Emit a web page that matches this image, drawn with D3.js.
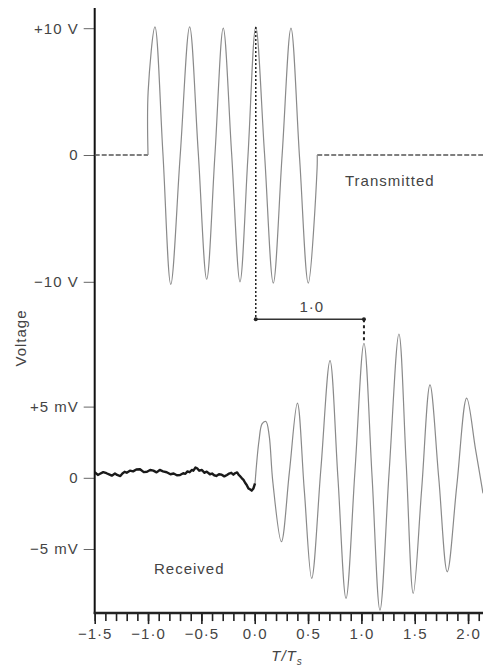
<!DOCTYPE html>
<html>
<head>
<meta charset="utf-8">
<script src="https://cdn.jsdelivr.net/npm/d3@7"></script>
<style>
  html, body { margin: 0; padding: 0; background: #fff; }
  svg text { font-family: "Liberation Sans", Arial, sans-serif; fill: #444; }
</style>
</head>
<body>
<div id="chart-div"></div>
<script>
// x axis: time in units of T/Ts
const xMajorTicks  = [-1.5, -1.0, -0.5, 0.0, 0.5, 1.0, 1.5, 2.0];
const xMajorLabels = ['\u22121\u00b75', '\u22121\u00b70', '\u22120\u00b75', '0\u00b70', '0\u00b75', '1\u00b70', '1\u00b75', '2\u00b70'];
const xMinorTicks  = [-1.5, -1.4, -1.3, -1.2, -1.1, -1.0, -0.9, -0.8, -0.7, -0.6, -0.5, -0.4, -0.3, -0.2, -0.1,
                      0.0, 0.1, 0.2, 0.3, 0.4, 0.5, 0.6, 0.7, 0.8, 0.9, 1.0, 1.1, 1.2, 1.3, 1.4, 1.5, 1.6, 1.7,
                      1.8, 1.9, 2.0, 2.1];

// left axis, upper panel (V) and lower panel (mV)
const txTicks  = [10, 0, -10];
const txLabels = ['+10 V', '0', '\u221210 V'];
const rxTicks  = [5, 0, -5];
const rxLabels = ['+5 mV', '0', '\u22125 mV'];

// transmitted burst (V)
const txBaseT  = [[-1.5, -1.0], [0.586, 2.14]];
const txBurstT = [-1.0, -0.999, -0.935, -0.861, -0.787, -0.699, -0.61, -0.53, -0.45, -0.373, -0.295,
                  -0.217, -0.138, -0.064, 0.01, 0.092, 0.174, 0.257, 0.34, 0.421, 0.502, 0.585, 0.586];
const txBurstV = [0, 5.0, 10.1, 0.2, -10.2, -0.1, 10.1, 0.3, -9.8, 0.0, 10.0,
                  0.2, -10.0, -0.2, 10.1, 0.1, -10.1, 0.0, 10.0, -0.3, -10.1, -1.0, 0];

// received signal (mV): noisy pre-arrival part, then oscillation
const rxNoiseT = [-1.5, -1.47, -1.45, -1.42, -1.39, -1.36, -1.34, -1.31, -1.29, -1.26, -1.24, -1.22, -1.2,
                  -1.17, -1.14, -1.11, -1.075, -1.04, -1.01, -0.98, -0.95, -0.92, -0.89, -0.86, -0.825,
                  -0.79, -0.76, -0.73, -0.70, -0.67, -0.65, -0.63, -0.61, -0.59, -0.575, -0.555, -0.54,
                  -0.52, -0.495, -0.47, -0.45, -0.42, -0.40, -0.38, -0.36, -0.335, -0.31, -0.285, -0.26,
                  -0.24, -0.22, -0.2, -0.185, -0.165, -0.15, -0.135, -0.12, -0.105, -0.09, -0.075,
                  -0.06, -0.045, -0.028, -0.012, 0.003];
const rxNoiseV = [0.39, 0.2, 0.28, 0.4, 0.32, 0.22, 0.15, 0.3, 0.2, 0.12, 0.3, 0.42, 0.36,
                  0.5, 0.45, 0.58, 0.6, 0.4, 0.42, 0.55, 0.5, 0.38, 0.55, 0.45, 0.39,
                  0.25, 0.3, 0.18, 0.2, 0.32, 0.28, 0.45, 0.39, 0.55, 0.5, 0.72, 0.67,
                  0.5, 0.55, 0.35, 0.43, 0.25, 0.3, 0.18, 0.13, 0.25, 0.22, 0.1, 0.2,
                  0.3, 0.35, 0.22, 0.32, 0.38, 0.2, 0.1, -0.04, -0.15, -0.35, -0.5,
                  -0.74, -0.8, -0.9, -0.75, -0.39];
const rxWaveT  = [0.003, 0.04, 0.07, 0.105, 0.135, 0.17, 0.25, 0.325, 0.40, 0.465, 0.534, 0.62, 0.706,
                  0.78, 0.856, 0.94, 1.024, 1.10, 1.174, 1.26, 1.352, 1.42, 1.486, 1.565, 1.643, 1.725,
                  1.805, 1.895, 1.987, 2.07, 2.14];
const rxWaveV  = [-0.39, 2.6, 3.8, 3.95, 3.0, -0.3, -4.49, 0.4, 5.24, -0.9, -7.06, 0.6, 8.23,
                  0.0, -8.47, 0.5, 9.45, 0.1, -9.29, 0.4, 10.1, 1.0, -8.12, -0.8, 6.52, 0.0,
                  -6.6, -0.5, 5.59, 2.0, -1.09];

// delay marker: transmitted peak -> received peak
const delayT     = [0.01, 1.024];
const delayLabel = '1\u00b70';
const delayLevel = -12.95;   // on the V scale, between the panels

const width = 483, height = 670;
const svg = d3.select('#chart-div').append('svg')
    .attr('width', width).attr('height', height);

const x   = d3.scaleLinear().domain([-1.5, 2.14]).range([94.7, 483]);
const yTx = d3.scaleLinear().domain([-10, 10]).range([281.8, 28.2]);
const yRx = d3.scaleLinear().domain([-5, 5]).range([549, 406.6]);
const axisY = yRx(-9.5);
const axisTop = yTx(11.6);

// left axes (ticks + labels only)
function leftAxis(scale, ticks, labels) {
    const g = svg.append('g')
        .attr('transform', `translate(${x(-1.5)},0)`)
        .call(d3.axisLeft(scale).tickValues(ticks).tickSize(11).tickPadding(5)
            .tickFormat((d, i) => labels[i]));
    g.select('.domain').remove();
    g.selectAll('line').attr('stroke', '#666').attr('stroke-width', 1);
    g.selectAll('text').attr('font-size', 15).attr('letter-spacing', 1).attr('fill', '#444');
}
leftAxis(yTx, txTicks, txLabels);
leftAxis(yRx, rxTicks, rxLabels);

// bottom axis: minor + major ticks
const gMinor = svg.append('g')
    .attr('transform', `translate(0,${axisY})`)
    .call(d3.axisBottom(x).tickValues(xMinorTicks).tickSize(8).tickFormat(''));
gMinor.select('.domain').remove();
gMinor.selectAll('line').attr('stroke', '#222').attr('stroke-width', 1.6);

const gMajor = svg.append('g')
    .attr('transform', `translate(0,${axisY})`)
    .call(d3.axisBottom(x).tickValues(xMajorTicks).tickSize(11).tickPadding(4)
        .tickFormat((d, i) => xMajorLabels[i]));
gMajor.select('.domain').remove();
gMajor.selectAll('line').attr('stroke', '#222').attr('stroke-width', 1.6);
gMajor.selectAll('text').attr('font-size', 15).attr('letter-spacing', 1).attr('fill', '#444');

// axis lines
svg.append('line')
    .attr('x1', x(-1.5)).attr('x2', x(-1.5))
    .attr('y1', axisTop).attr('y2', axisY + 1)
    .attr('stroke', '#111').attr('stroke-width', 2);
svg.append('line')
    .attr('x1', x(-1.5) - 1).attr('x2', width)
    .attr('y1', axisY).attr('y2', axisY)
    .attr('stroke', '#222').attr('stroke-width', 2.5);

// transmitted trace
const lineTx = d3.line().x(d => x(d[0])).y(d => yTx(d[1]));
txBaseT.forEach(seg => {
    svg.append('path')
        .datum(seg.map(t => [t, 0]))
        .attr('fill', 'none').attr('stroke', '#555').attr('stroke-width', 1.3)
        .attr('stroke-dasharray', '5 2')
        .attr('d', lineTx);
});
svg.append('path')
    .datum(txBurstT.map((t, i) => [t, txBurstV[i]]))
    .attr('fill', 'none').attr('stroke', '#8a8a8a').attr('stroke-width', 1.2)
    .attr('d', lineTx.curve(d3.curveCatmullRom.alpha(0.5)));

// received trace
svg.append('path')
    .datum(rxWaveT.map((t, i) => [t, rxWaveV[i]]))
    .attr('fill', 'none').attr('stroke', '#8a8a8a').attr('stroke-width', 1.2)
    .attr('d', d3.line().x(d => x(d[0])).y(d => yRx(d[1])).curve(d3.curveCatmullRom.alpha(0.5)));
svg.append('path')
    .datum(rxNoiseT.map((t, i) => [t, rxNoiseV[i]]))
    .attr('fill', 'none').attr('stroke', '#1a1a1a').attr('stroke-width', 2.4)
    .attr('stroke-linejoin', 'round')
    .attr('d', d3.line().x(d => x(d[0])).y(d => yRx(d[1])));

// delay marker
const yBracket = yTx(delayLevel);
svg.append('line')
    .attr('x1', x(delayT[0])).attr('x2', x(delayT[0]))
    .attr('y1', yTx(10.1)).attr('y2', yBracket)
    .attr('stroke', '#222').attr('stroke-width', 1.5).attr('stroke-dasharray', '2 2');
svg.append('line')
    .attr('x1', x(delayT[1])).attr('x2', x(delayT[1]))
    .attr('y1', yBracket).attr('y2', yRx(9.45))
    .attr('stroke', '#222').attr('stroke-width', 2).attr('stroke-dasharray', '3 3');
svg.append('line')
    .attr('x1', x(delayT[0])).attr('x2', x(delayT[1]))
    .attr('y1', yBracket).attr('y2', yBracket)
    .attr('stroke', '#333').attr('stroke-width', 1.5);
svg.selectAll('circle.end')
    .data(delayT).enter().append('circle')
    .attr('cx', d => x(d)).attr('cy', yBracket).attr('r', 2)
    .attr('fill', '#222');
svg.append('text')
    .attr('x', x((delayT[0] + delayT[1]) / 2) + 2).attr('y', yBracket - 7)
    .attr('text-anchor', 'middle').attr('font-size', 15).attr('letter-spacing', 1)
    .text(delayLabel);

// series labels
svg.append('text')
    .attr('x', 345).attr('y', 186).attr('font-size', 15).attr('letter-spacing', 1)
    .text('Transmitted');
svg.append('text')
    .attr('x', 154).attr('y', 574).attr('font-size', 15).attr('letter-spacing', 1)
    .text('Received');

// axis titles
svg.append('text')
    .attr('transform', 'translate(26,338) rotate(-90)')
    .attr('text-anchor', 'middle').attr('font-size', 15).attr('letter-spacing', 1)
    .text('Voltage');
const xt = svg.append('text')
    .attr('x', 287).attr('y', 661).attr('text-anchor', 'middle')
    .attr('font-size', 15).attr('font-style', 'italic').attr('letter-spacing', 1);
xt.append('tspan').text('T/T');
xt.append('tspan').attr('font-size', 10).attr('dy', 4).text('s');
</script>
</body>
</html>
